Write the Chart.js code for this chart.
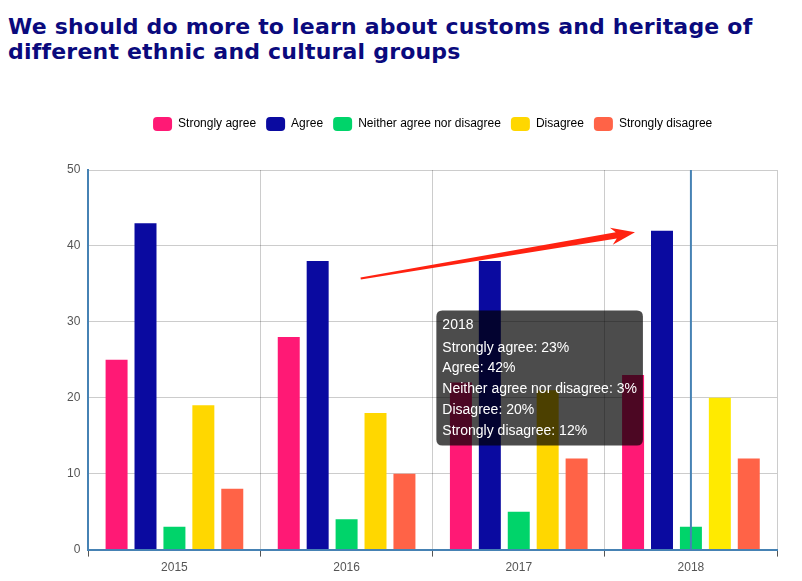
<!DOCTYPE html>
<html>
<head>
<meta charset="utf-8">
<script src="https://cdn.jsdelivr.net/npm/chart.js@4"></script>
<style>
  body { margin: 0; background: #fff; }
  #title {
    position: absolute; left: 8px; top: 14px; width: 794px; white-space: nowrap;
    font-family: "DejaVu Sans", "Open Sans", sans-serif; font-weight: 700;
    font-size: 22px; line-height: 25px; letter-spacing: 0.2px; color: #0a0a7d;
  }
  #wrap { position: absolute; left: 0; top: 107px; width: 802px; height: 474px; }
</style>
</head>
<body>
<div id="title">We should do more to learn about customs and heritage of<br>different ethnic and cultural groups</div>
<div id="wrap"><canvas id="surveyBar"></canvas></div>
<script>
var years = ['2015', '2016', '2017', '2018'];
var seriesNames = ['Strongly agree', 'Agree', 'Neither agree nor disagree', 'Disagree', 'Strongly disagree'];
var stronglyAgree = [25, 28, 22, 23];
var agree = [43, 38, 38, 42];
var neither = [3, 4, 5, 3];
var disagree = [19, 18, 21, 20];
var stronglyDisagree = [8, 10, 12, 12];
var yTicks = [0, 10, 20, 30, 40, 50];

var barColors = ['#FF1975', '#0A0AA0', '#00D46A', '#FFD700', '#FF6347'];
var hoverColors = ['#FF1975', '#0A0AA0', '#00D46A', '#FFEA00', '#FF6347'];
var axisBlue = '#4682B4';

Chart.defaults.font.family = '"Liberation Sans", Arial, sans-serif';
Chart.defaults.font.size = 12;
Chart.defaults.color = '#666';

Chart.Tooltip.positioners.besideBar = function (elements) {
    if (!elements.length) return false;
    var chart = this.chart;
    return {
        x: chart.scales.x.getPixelForValue(elements[0].index) - 48,
        y: chart.chartArea.top + 208
    };
};

// push the plot down below the legend
var legendGap = {
    id: 'legendGap',
    beforeInit: function (chart) {
        var fit = chart.legend.fit;
        chart.legend.fit = function () {
            fit.bind(chart.legend)();
            this.height += 29;
        };
    }
};

// vertical hover line + red arrow annotation
var overlay = {
    id: 'overlay',
    afterDatasetsDraw: function (chart) {
        var ctx = chart.ctx;
        var area = chart.chartArea;
        var x = chart.scales.x;
        var y = chart.scales.y;
        ctx.save();
        ctx.strokeStyle = axisBlue;
        ctx.lineWidth = 2;
        ctx.beginPath();
        ctx.moveTo(x.getPixelForValue(3), area.top);
        ctx.lineTo(x.getPixelForValue(3), area.bottom);
        ctx.stroke();

        var meta = chart.getDatasetMeta(1);
        var sx = meta.data[1].x + 43, sy = y.getPixelForValue(35.7);
        var ex = meta.data[3].x - 27, ey = y.getPixelForValue(41.8);
        var dx = ex - sx, dy = ey - sy;
        var len = Math.sqrt(dx * dx + dy * dy);
        var ux = dx / len, uy = dy / len;
        var nx = -uy, ny = ux;
        var bx = ex - ux * 19, by = ey - uy * 19;
        ctx.fillStyle = '#FF2211';
        ctx.beginPath();
        ctx.moveTo(sx + nx * 1, sy + ny * 1);
        ctx.lineTo(bx + nx * 3.2, by + ny * 3.2);
        ctx.lineTo(bx - ux * 5 + nx * 8.5, by - uy * 5 + ny * 8.5);
        ctx.lineTo(ex, ey);
        ctx.lineTo(bx - ux * 5 - nx * 8.5, by - uy * 5 - ny * 8.5);
        ctx.lineTo(bx - nx * 3.2, by - ny * 3.2);
        ctx.lineTo(sx - nx * 1, sy - ny * 1);
        ctx.closePath();
        ctx.fill();
        ctx.restore();
    }
};

function makeSet(i, values) {
    return {
        label: seriesNames[i],
        data: values,
        backgroundColor: barColors[i],
        hoverBackgroundColor: hoverColors[i],
        borderColor: barColors[i],
        hoverBorderColor: hoverColors[i],
        borderWidth: 0,
        categoryPercentage: 0.84,
        barPercentage: 0.76
    };
}

function buildSurveyBar() {
    var ctx = document.getElementById('surveyBar').getContext('2d');
    var chart = new Chart(ctx, {
        type: 'bar',
        data: {
            labels: years,
            datasets: [
                makeSet(0, stronglyAgree),
                makeSet(1, agree),
                makeSet(2, neither),
                makeSet(3, disagree),
                makeSet(4, stronglyDisagree)
            ]
        },
        options: {
            responsive: true,
            maintainAspectRatio: false,
            animation: false,
            events: [],
            layout: { padding: { left: 59, right: 25, top: 0, bottom: 2 } },
            plugins: {
                legend: {
                    position: 'top',
                    fullSize: false,
                    labels: {
                        boxWidth: 19,
                        boxHeight: 14,
                        useBorderRadius: true,
                        borderRadius: 4,
                        padding: 10,
                        color: '#666',
                        font: { size: 12 },
                        generateLabels: function (chart) {
                            return chart.data.datasets.map(function (ds, i) {
                                return {
                                    text: ds.label,
                                    fillStyle: barColors[i],
                                    strokeStyle: barColors[i],
                                    lineWidth: 0,
                                    borderRadius: 4,
                                    datasetIndex: i,
                                    hidden: false
                                };
                            });
                        }
                    }
                },
                tooltip: {
                    mode: 'index',
                    position: 'besideBar',
                    xAlign: 'right',
                    yAlign: 'center',
                    caretSize: 0,
                    caretPadding: 0,
                    displayColors: false,
                    backgroundColor: 'rgba(0,0,0,0.7)',
                    padding: 6,
                    cornerRadius: 6,
                    titleFont: { size: 14, weight: 'normal' },
                    bodyFont: { size: 14 },
                    titleMarginBottom: 6,
                    bodySpacing: 4,
                    callbacks: {
                        label: function (item) {
                            return item.dataset.label + ': ' + item.raw + '%';
                        }
                    }
                }
            },
            scales: {
                x: {
                    grid: {
                        offset: true,
                        color: 'rgba(0,0,0,0.2)',
                        tickColor: '#555',
                        tickLength: 7,
                        drawTicks: true
                    },
                    border: { color: axisBlue, width: 2 },
                    ticks: { padding: 4, color: '#555' }
                },
                y: {
                    min: 0,
                    max: 50,
                    afterBuildTicks: function (scale) {
                        scale.ticks = yTicks.map(function (v) { return { value: v }; });
                    },
                    grid: { color: 'rgba(0,0,0,0.2)', drawTicks: false },
                    border: { color: axisBlue, width: 2 },
                    ticks: { padding: 8, color: '#555' }
                }
            }
        },
        plugins: [legendGap, overlay]
    });

    var active = seriesNames.map(function (n, i) { return { datasetIndex: i, index: 3 }; });
    chart.setActiveElements(active);
    chart.tooltip.setActiveElements(active, { x: 0, y: 0 });
    chart.update('none');
}

buildSurveyBar();
</script>
</body>
</html>
